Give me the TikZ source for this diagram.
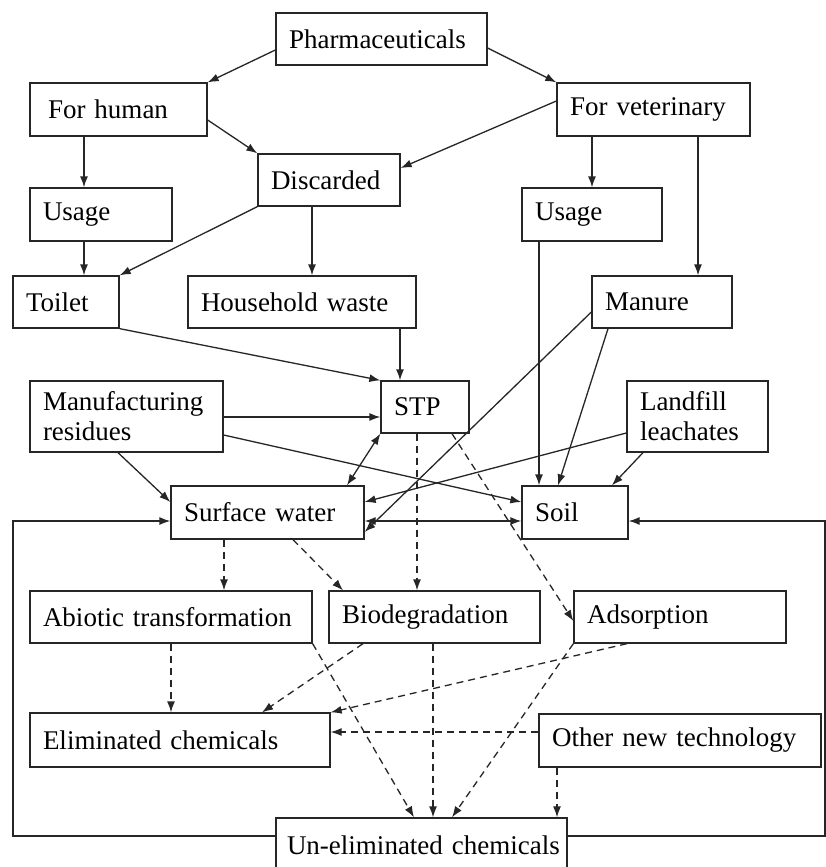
\documentclass[tikz,border=0pt]{standalone}
\usepackage{fontspec}
\setmainfont{Liberation Serif}
\usepackage{tikz}
\usetikzlibrary{arrows.meta}

\begin{document}
\begin{tikzpicture}[x=1pt, y=-1pt,
	box/.style={shape=rectangle, draw=black!85, line width=1.3pt, inner xsep=13pt, inner ysep=0pt, align=left, font=\fontsize{27}{30}\selectfont},
	flow/.style={draw=black!85, line width=1.3pt, -{Latex[length=11pt, width=8pt]}},
	flowb/.style={flow, {Latex[length=11pt, width=8pt]}-{Latex[length=11pt, width=8pt]}},
	flowd/.style={flow, dash pattern=on 7pt off 5pt}]
	\useasboundingbox (0,0) rectangle (826,867);
	\fill[white] (0,0) rectangle (826,867);
	% Boxes:
	\node[box, text width=185pt, minimum height=52pt](Rect1) at (381.5, 39){Pharmaceuticals};
	\node[box, text width=151pt, minimum height=53pt](Rect2) at (118.5, 109.5){\hspace{5pt}For human};
	\node[box, text width=167pt, minimum height=53pt](Rect3) at (653.5, 109.5){For veterinary};
	\node[box, text width=116pt, minimum height=52pt](Rect4) at (329, 180){Discarded};
	\node[box, text width=116pt, minimum height=53pt](Rect5) at (101, 214.5){Usage};
	\node[box, text width=114pt, minimum height=53pt](Rect6) at (592, 214.5){Usage};
	\node[box, text width=80pt, minimum height=52pt](Rect7) at (66, 302){Toilet};
	\node[box, text width=202pt, minimum height=52pt](Rect8) at (302, 302){Household waste};
	\node[box, text width=114pt, minimum height=52pt](Rect9) at (662, 302){Manure};
	\node[box, text width=167pt, minimum height=71pt](Rect10) at (126.5, 416.5){Manufacturing\\residues};
	\node[box, text width=62pt, minimum height=52pt](Rect11) at (425, 407){STP};
	\node[box, text width=115pt, minimum height=71pt](Rect12) at (697.5, 416.5){Landfill\\leachates};
	\node[box, text width=167pt, minimum height=53pt](Rect13) at (267.5, 512.5){Surface water};
	\node[box, text width=80pt, minimum height=53pt](Rect14) at (575, 512.5){Soil};
	\node[box, text width=256pt, minimum height=52pt](Rect15) at (171, 617){Abiotic transformation};
	\node[box, text width=185pt, minimum height=52pt](Rect16) at (434.5, 617){Biodegradation};
	\node[box, text width=186pt, minimum height=52pt](Rect17) at (680, 617){Adsorption};
	\node[box, text width=274pt, minimum height=54pt](Rect18) at (180, 740){Eliminated chemicals};
	\node[box, text width=256pt, minimum height=53pt](Rect19) at (680, 740.5){Other new technology};
	\node[box, inner xsep=11pt, text width=269pt, minimum height=54pt](Rect20) at (421.5, 845){\mbox{Un-eliminated chemicals}};
	% Solid paths:
	\draw[flow] (Rect1.west |- 0,50) -- (Rect2.north east);
	\draw[flow] (Rect1.east |- 0,48) -- (Rect3.north west);
	\draw[flow] (84,0 |- Rect2.south) -- (84,0 |- Rect5.north);
	\draw[flow] (Rect2.east |- 0,120) -- (Rect4.north west);
	\draw[flow] (Rect3.west |- 0,101) -- (Rect4.east |- 0,168);
	\draw[flow] (592,0 |- Rect3.south) -- (Rect6.north);
	\draw[flow] (698,0 |- Rect3.south) -- (698,0 |- Rect9.north);
	\draw[flow] (84,0 |- Rect5.south) -- (84,0 |- Rect7.north);
	\draw[flow] (Rect4.south west) -- (Rect7.north east);
	\draw[flow] (312,0 |- Rect4.south) -- (312,0 |- Rect8.north);
	\draw[flow] (Rect7.south east) -- (Rect11.north west);
	\draw[flow] (400,0 |- Rect8.south) -- (400,0 |- Rect11.north);
	\draw[flow] (Rect10.east |- 0,417) -- (Rect11.west |- 0,417);
	\draw[flow] (Rect10.east |- 0,435) -- (Rect14.west |- 0,502);
	\draw[flow] (118,0 |- Rect10.south) -- (Rect13.west |- 0,502);
	\draw[flowb] (Rect11.south west) -- (347,0 |- Rect13.north);
	\draw[flow] (539,0 |- Rect6.south) -- (539,0 |- Rect14.north);
	\draw[flow] (Rect9.west |- 0,312) -- (Rect13.east |- 0,532);
	\draw[flow] (608,0 |- Rect9.south) -- (558,0 |- Rect14.north);
	\draw[flow] (Rect12.west |- 0,433) -- (Rect13.east |- 0,502);
	\draw[flow] (643,0 |- Rect12.south) -- (612,0 |- Rect14.north);
	\draw[flowb] (Rect13.east |- 0,521) -- (Rect14.west |- 0,521);
	\draw[flow] (Rect20.west |- 0,836) -| (13,521) -- (Rect13.west |- 0,521);
	\draw[flow] (Rect20.east |- 0,836) -| (825,521) -- (Rect14.east |- 0,521);
	% Dashed paths:
	\draw[flowd] (224,0 |- Rect13.south) -- (224,0 |- Rect15.north);
	\draw[flowd] (293,0 |- Rect13.south) -- (343,0 |- Rect16.north);
	\draw[flowd] (417,0 |- Rect11.south) -- (417,0 |- Rect16.north);
	\draw[flowd] (452,0 |- Rect11.south) -- (Rect17.west |- 0,621);
	\draw[flowd] (171,0 |- Rect15.south) -- (171,0 |- Rect18.north);
	\draw[flowd] (363,0 |- Rect16.south) -- (262,0 |- Rect18.north);
	\draw[flowd] (627,0 |- Rect17.south) -- (Rect18.north east);
	\draw[flowd] (Rect19.west |- 0,732) -- (Rect18.east |- 0,732);
	\draw[flowd] (Rect15.south east) -- (414,0 |- Rect20.north);
	\draw[flowd] (433,0 |- Rect16.south) -- (433,0 |- Rect20.north);
	\draw[flowd] (Rect17.south west) -- (452,0 |- Rect20.north);
	\draw[flowd] (557,0 |- Rect19.south) -- (557,0 |- Rect20.north);
\end{tikzpicture}
\end{document}
